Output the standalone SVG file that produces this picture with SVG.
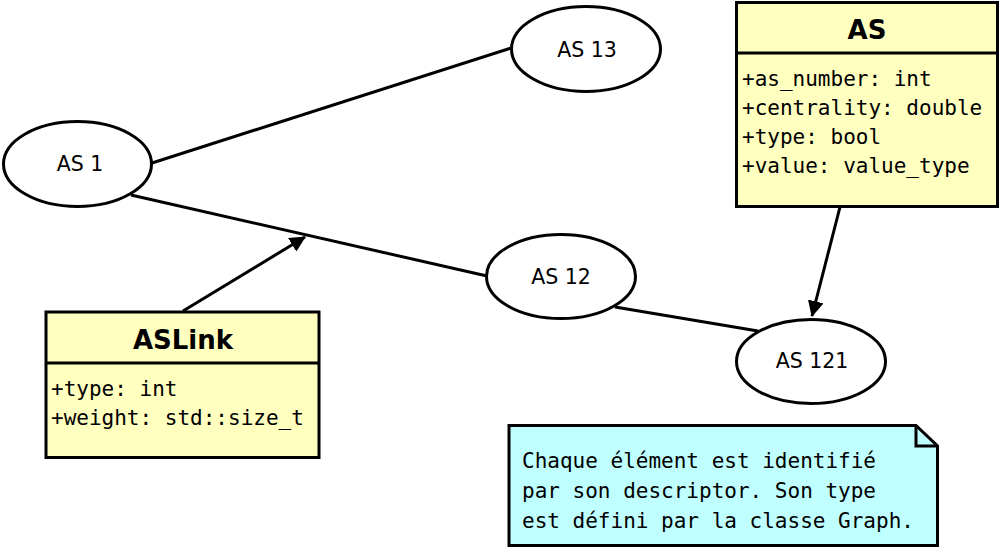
<svg xmlns="http://www.w3.org/2000/svg" width="1001" height="548" viewBox="0 0 1001 548">
<style>
.edge{stroke:#000;stroke-width:3;fill:none}
.ell{fill:#fff;stroke:#000;stroke-width:3}
.cls{fill:#ffffc0;stroke:#000;stroke-width:3}
.note{fill:#c0ffff;stroke:#000;stroke-width:3}
.lbl{font-family:"DejaVu Sans",sans-serif;font-size:20.5px;text-anchor:middle;fill:#000}
.title{font-family:"DejaVu Sans",sans-serif;font-size:26px;font-weight:bold;text-anchor:middle;fill:#000}
.mono{font-family:"DejaVu Sans Mono",monospace;font-size:21px;fill:#000}
</style>
<defs>
<marker id="arr" markerWidth="16" markerHeight="16" viewBox="0 0 16 16" refX="15" refY="8" orient="auto" markerUnits="userSpaceOnUse">
<path d="M0,0 L16,8 L0,16 Z" fill="#000"/>
</marker>
</defs>
<g id="connectors">
<line class="edge" x1="152" y1="163" x2="511" y2="48"/>
<line class="edge" x1="131" y1="195" x2="487" y2="276"/>
<line class="edge" x1="615" y1="307" x2="758" y2="331"/>
<line class="edge" x1="183" y1="311" x2="305" y2="237" marker-end="url(#arr)"/>
<line class="edge" x1="840" y1="207" x2="812" y2="316" marker-end="url(#arr)"/>
</g>
<g id="as1">
<ellipse class="ell" cx="77.5" cy="164" rx="74" ry="42.5"/>
<text class="lbl" x="80" y="171">AS 1</text>
</g>
<g id="as13">
<ellipse class="ell" cx="586" cy="49" rx="74.5" ry="42.5"/>
<text class="lbl" x="587" y="57">AS 13</text>
</g>
<g id="as12">
<ellipse class="ell" cx="561" cy="276.5" rx="74.5" ry="42"/>
<text class="lbl" x="561" y="284">AS 12</text>
</g>
<g id="as121">
<ellipse class="ell" cx="811" cy="361.5" rx="74.5" ry="42"/>
<text class="lbl" x="812" y="368">AS 121</text>
</g>
<g id="AS">
<rect class="cls" x="736.5" y="2.5" width="261" height="204"/>
<line class="edge" x1="736.5" y1="53" x2="997.5" y2="53"/>
<text class="title" x="867" y="39">AS</text>
<text class="mono" x="742" y="86">+as_number: int</text>
<text class="mono" x="742" y="115">+centrality: double</text>
<text class="mono" x="742" y="144">+type: bool</text>
<text class="mono" x="742" y="173">+value: value_type</text>
</g>
<g id="ASLink">
<rect class="cls" x="46" y="312" width="273" height="145.5"/>
<line class="edge" x1="46" y1="363" x2="319" y2="363"/>
<text class="title" x="183" y="349">ASLink</text>
<text class="mono" x="51" y="396">+type: int</text>
<text class="mono" x="51" y="425">+weight: std::size_t</text>
</g>
<g id="note">
<path class="note" d="M509,425.5 L916,425.5 L937.5,446 L937.5,545.5 L509,545.5 Z"/>
<path class="edge" d="M916,425.5 L916,446 L937.5,446" stroke-width="2"/>
<text class="mono" x="522" y="468">Chaque élément est identifié</text>
<text class="mono" x="522" y="498">par son descriptor. Son type</text>
<text class="mono" x="522" y="528">est défini par la classe Graph.</text>
</g>
</svg>
